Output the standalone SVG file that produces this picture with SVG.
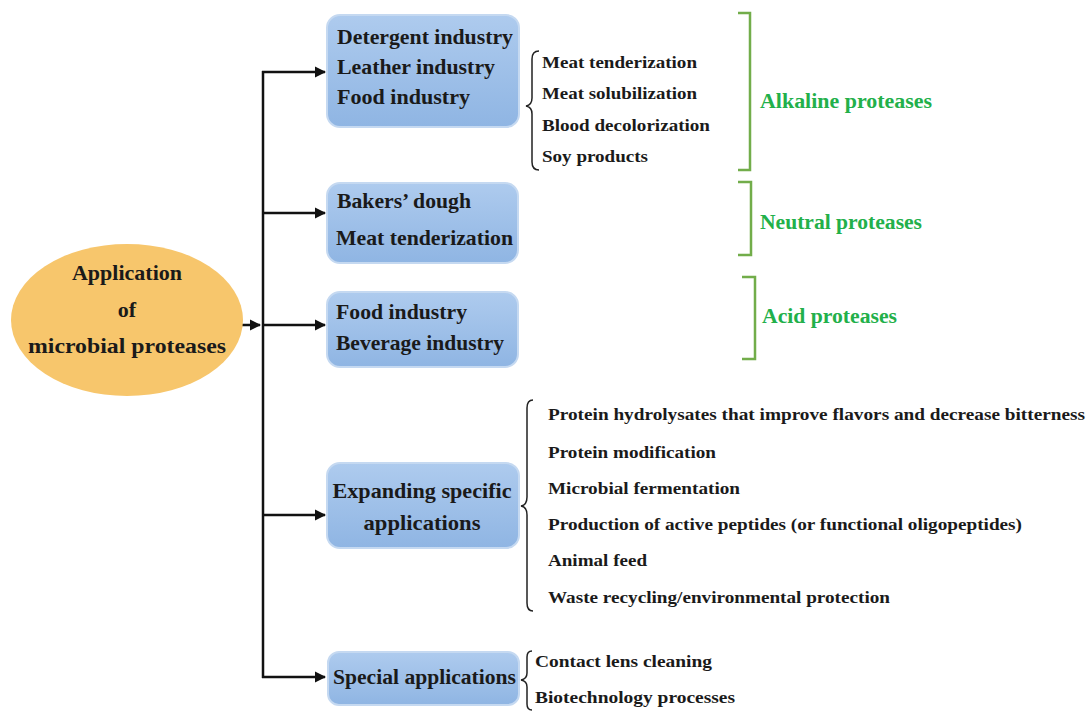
<svg xmlns="http://www.w3.org/2000/svg" width="1088" height="713" viewBox="0 0 1088 713">
<defs>
<linearGradient id="boxg" x1="0" y1="0" x2="0" y2="1">
<stop offset="0" stop-color="#aecbee"/>
<stop offset="1" stop-color="#8fb5e3"/>
</linearGradient>
<marker id="ah" viewBox="0 0 10 10" refX="9" refY="5" markerWidth="4.5" markerHeight="4.5" orient="auto" markerUnits="strokeWidth">
<path d="M0,0 L10,5 L0,10 z" fill="#111"/>
</marker>
</defs>
<style>
.box{fill:url(#boxg);stroke:#c5d9f1;stroke-width:2}
text{font-family:'Liberation Serif','Times New Roman','DejaVu Serif',serif;font-weight:bold}
.t{fill:#1a1a1a}
.bt{font-size:21px}
.lt{font-size:17px}
.g{fill:#22b04a;font-size:20px}
.conn{stroke:#111;stroke-width:2.5;fill:none}
.brace{stroke:#222;stroke-width:1.5;fill:none}
.gb{stroke:#72ad4a;stroke-width:2.5;fill:none}
</style>
<rect width="1088" height="713" fill="#ffffff"/>

<g id="connectors">
<line class="conn" x1="218" y1="325" x2="260" y2="325" marker-end="url(#ah)"/>
<line class="conn" x1="263" y1="71" x2="263" y2="678"/>
<line class="conn" x1="262" y1="72" x2="325" y2="72" marker-end="url(#ah)"/>
<line class="conn" x1="262" y1="213" x2="325" y2="213" marker-end="url(#ah)"/>
<line class="conn" x1="262" y1="325" x2="325" y2="325" marker-end="url(#ah)"/>
<line class="conn" x1="262" y1="515" x2="325" y2="515" marker-end="url(#ah)"/>
<line class="conn" x1="262" y1="677" x2="325" y2="677" marker-end="url(#ah)"/>
</g>

<g id="root" font-family="Liberation Serif, serif">
<ellipse cx="127" cy="320" rx="116" ry="76" fill="#f7c66c"/>
<text class="t" font-size="22" x="127" y="280" text-anchor="middle">Application</text>
<text class="t" font-size="22" x="127" y="317" text-anchor="middle">of</text>
<text class="t" font-size="22" x="127" y="353" text-anchor="middle" textLength="198" lengthAdjust="spacingAndGlyphs">microbial proteases</text>
</g>

<g id="node-alkaline" font-family="Liberation Serif, serif">
<rect class="box" x="327" y="15" width="192" height="112" rx="13"/>
<text class="t bt" x="337" y="44" textLength="176" lengthAdjust="spacingAndGlyphs">Detergent industry</text>
<text class="t bt" x="337" y="74" textLength="158" lengthAdjust="spacingAndGlyphs">Leather industry</text>
<text class="t bt" x="337" y="104" textLength="133" lengthAdjust="spacingAndGlyphs">Food industry</text>
<path class="brace" d="M539,51 Q532,51 532,59 L532,98 Q532,105 526,106 Q532,107 532,114 L532,162 Q532,170 539,170"/>
<text class="t lt" x="542" y="68" textLength="155" lengthAdjust="spacingAndGlyphs">Meat tenderization</text>
<text class="t lt" x="542" y="99" textLength="155" lengthAdjust="spacingAndGlyphs">Meat solubilization</text>
<text class="t lt" x="542" y="131" textLength="168" lengthAdjust="spacingAndGlyphs">Blood decolorization</text>
<text class="t lt" x="542" y="162" textLength="106" lengthAdjust="spacingAndGlyphs">Soy products</text>
<path class="gb" d="M738,13 L750,13 L750,170 L738,170"/>
<text class="g" x="760" y="108" textLength="172" lengthAdjust="spacingAndGlyphs">Alkaline proteases</text>
</g>

<g id="node-neutral" font-family="Liberation Serif, serif">
<rect class="box" x="327" y="183" width="191" height="80" rx="13"/>
<text class="t bt" x="337" y="208" textLength="134" lengthAdjust="spacingAndGlyphs">Bakers’ dough</text>
<text class="t bt" x="336" y="245" textLength="177" lengthAdjust="spacingAndGlyphs">Meat tenderization</text>
<path class="gb" d="M738,182 L751,182 L751,255 L738,255"/>
<text class="g" x="760" y="229" textLength="162" lengthAdjust="spacingAndGlyphs">Neutral proteases</text>
</g>

<g id="node-acid" font-family="Liberation Serif, serif">
<rect class="box" x="327" y="292" width="191" height="75" rx="13"/>
<text class="t bt" x="336" y="319" textLength="131" lengthAdjust="spacingAndGlyphs">Food industry</text>
<text class="t bt" x="336" y="350" textLength="168" lengthAdjust="spacingAndGlyphs">Beverage industry</text>
<path class="gb" d="M742,277 L755,277 L755,359 L742,359"/>
<text class="g" x="762" y="323" textLength="135" lengthAdjust="spacingAndGlyphs">Acid proteases</text>
</g>

<g id="node-expanding" font-family="Liberation Serif, serif">
<rect class="box" x="327" y="463" width="192" height="85" rx="13"/>
<text class="t bt" x="422" y="498" text-anchor="middle" textLength="179" lengthAdjust="spacingAndGlyphs">Expanding specific</text>
<text class="t bt" x="422" y="530" text-anchor="middle" textLength="117" lengthAdjust="spacingAndGlyphs">applications</text>
<path class="brace" d="M533,400 Q527,400 527,408 L527,497 Q527,505 521,506 Q527,507 527,515 L527,603 Q527,611 533,611"/>
<text class="t lt" x="548" y="420" textLength="537" lengthAdjust="spacingAndGlyphs">Protein hydrolysates that improve flavors and decrease bitterness</text>
<text class="t lt" x="548" y="458" textLength="168" lengthAdjust="spacingAndGlyphs">Protein modification</text>
<text class="t lt" x="548" y="494" textLength="192" lengthAdjust="spacingAndGlyphs">Microbial fermentation</text>
<text class="t lt" x="548" y="530" textLength="474" lengthAdjust="spacingAndGlyphs">Production of active peptides (or functional oligopeptides)</text>
<text class="t lt" x="548" y="566" textLength="99" lengthAdjust="spacingAndGlyphs">Animal feed</text>
<text class="t lt" x="548" y="603" textLength="342" lengthAdjust="spacingAndGlyphs">Waste recycling/environmental  protection</text>
</g>

<g id="node-special" font-family="Liberation Serif, serif">
<rect class="box" x="328" y="652" width="191" height="53" rx="11"/>
<text class="t bt" x="333" y="684" textLength="183" lengthAdjust="spacingAndGlyphs">Special applications</text>
<path class="brace" d="M532,651 Q527,651 527,657 L527,673 Q527,679 521,680 Q527,681 527,687 L527,704 Q527,710 532,710"/>
<text class="t lt" x="535" y="667" textLength="177" lengthAdjust="spacingAndGlyphs">Contact lens cleaning</text>
<text class="t lt" x="535" y="703" textLength="200" lengthAdjust="spacingAndGlyphs">Biotechnology processes</text>
</g>
</svg>
